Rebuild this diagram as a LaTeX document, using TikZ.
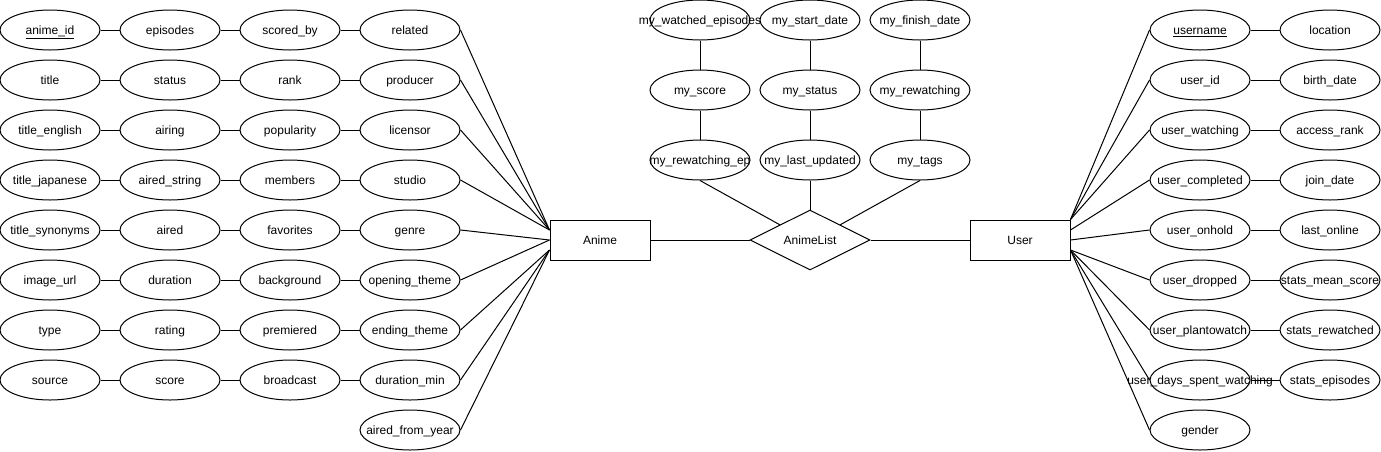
\documentclass[tikz,border=0pt]{standalone}
\usepackage{fontspec}
\setmainfont{Liberation Sans}
\usetikzlibrary{shapes.geometric, calc}
\newcommand{\attrtxt}[1]{\makebox[0pt]{#1}}
\tikzset{
  every picture/.style={x=1pt, y=-1pt, line width=1pt, font=\fontsize{12}{14}\selectfont},
  attr/.style={ellipse, draw, minimum width=100pt, minimum height=40pt, inner sep=0pt, text height=8.5pt, text depth=0pt},
  entity/.style={draw, minimum width=100pt, minimum height=40pt, inner sep=0pt, text height=8.5pt, text depth=0pt},
  relation/.style={diamond, draw, minimum width=120pt, minimum height=60pt, inner sep=0pt, aspect=2, text height=8.5pt, text depth=0pt},
  link/.style={draw, line width=1pt},
}
\begin{document}
\begin{tikzpicture}
  \useasboundingbox (0,0) rectangle (1381,451);
  % entities and relationship
  \node[entity] (anime) at (600,240) {Anime};
  \node[relation] (alist) at (810,240) {AnimeList};
  \node[entity] (user) at (1020,240) {User};
  \draw[link] (anime) -- (alist);
  \draw[link] (alist) -- (user);
  % Anime attributes
  \node[attr] (animeid) at (50,30) {\attrtxt{\underline{anime\_id}}};
  \node[attr] (episodes) at (170,30) {\attrtxt{episodes}};
  \node[attr] (scoredby) at (290,30) {\attrtxt{scored\_by}};
  \node[attr] (related) at (410,30) {\attrtxt{related}};
  \node[attr] (title) at (50,80) {\attrtxt{title}};
  \node[attr] (status) at (170,80) {\attrtxt{status}};
  \node[attr] (rank) at (290,80) {\attrtxt{rank}};
  \node[attr] (producer) at (410,80) {\attrtxt{producer}};
  \node[attr] (titleen) at (50,130) {\attrtxt{title\_english}};
  \node[attr] (airing) at (170,130) {\attrtxt{airing}};
  \node[attr] (popularity) at (290,130) {\attrtxt{popularity}};
  \node[attr] (licensor) at (410,130) {\attrtxt{licensor}};
  \node[attr] (titleja) at (50,180) {\attrtxt{title\_japanese}};
  \node[attr] (airedstr) at (170,180) {\attrtxt{aired\_string}};
  \node[attr] (members) at (290,180) {\attrtxt{members}};
  \node[attr] (studio) at (410,180) {\attrtxt{studio}};
  \node[attr] (titlesyn) at (50,230) {\attrtxt{title\_synonyms}};
  \node[attr] (aired) at (170,230) {\attrtxt{aired}};
  \node[attr] (favorites) at (290,230) {\attrtxt{favorites}};
  \node[attr] (genre) at (410,230) {\attrtxt{genre}};
  \node[attr] (imageurl) at (50,280) {\attrtxt{image\_url}};
  \node[attr] (duration) at (170,280) {\attrtxt{duration}};
  \node[attr] (background) at (290,280) {\attrtxt{background}};
  \node[attr] (opening) at (410,280) {\attrtxt{opening\_theme}};
  \node[attr] (type) at (50,330) {\attrtxt{type}};
  \node[attr] (rating) at (170,330) {\attrtxt{rating}};
  \node[attr] (premiered) at (290,330) {\attrtxt{premiered}};
  \node[attr] (ending) at (410,330) {\attrtxt{ending\_theme}};
  \node[attr] (source) at (50,380) {\attrtxt{source}};
  \node[attr] (score) at (170,380) {\attrtxt{score}};
  \node[attr] (broadcast) at (290,380) {\attrtxt{broadcast}};
  \node[attr] (durmin) at (410,380) {\attrtxt{duration\_min}};
  \node[attr] (airedyear) at (410,430) {\attrtxt{aired\_from\_year}};
  \draw[link] (animeid) -- (episodes) -- (scoredby) -- (related);
  \draw[link] (title) -- (status) -- (rank) -- (producer);
  \draw[link] (titleen) -- (airing) -- (popularity) -- (licensor);
  \draw[link] (titleja) -- (airedstr) -- (members) -- (studio);
  \draw[link] (titlesyn) -- (aired) -- (favorites) -- (genre);
  \draw[link] (imageurl) -- (duration) -- (background) -- (opening);
  \draw[link] (type) -- (rating) -- (premiered) -- (ending);
  \draw[link] (source) -- (score) -- (broadcast) -- (durmin);
  \coordinate (ain1) at ([yshift=10pt]anime.west);
  \coordinate (ain2) at (anime.west);
  \coordinate (ain3) at ([yshift=-10pt]anime.west);
  \draw[link] (related.east) -- (ain1);
  \draw[link] (producer.east) -- (ain1);
  \draw[link] (licensor.east) -- (ain1);
  \draw[link] (studio.east) -- (ain1);
  \draw[link] (genre.east) -- (ain2);
  \draw[link] (opening.east) -- (ain2);
  \draw[link] (ending.east) -- (ain3);
  \draw[link] (durmin.east) -- (ain3);
  \draw[link] (airedyear.east) -- (ain3);
  % AnimeList attributes
  \node[attr] (watched) at (700,20) {\attrtxt{my\_watched\_episodes}};
  \node[attr] (startdate) at (810,20) {\attrtxt{my\_start\_date}};
  \node[attr] (finishdate) at (920,20) {\attrtxt{my\_finish\_date}};
  \node[attr] (myscore) at (700,90) {\attrtxt{my\_score}};
  \node[attr] (mystatus) at (810,90) {\attrtxt{my\_status}};
  \node[attr] (rewatching) at (920,90) {\attrtxt{my\_rewatching}};
  \node[attr] (rewatchep) at (700,160) {\attrtxt{my\_rewatching\_ep}};
  \node[attr] (lastupd) at (810,160) {\attrtxt{my\_last\_updated}};
  \node[attr] (mytags) at (920,160) {\attrtxt{my\_tags}};
  \draw[link] (watched) -- (myscore) -- (rewatchep);
  \draw[link] (startdate) -- (mystatus) -- (lastupd);
  \draw[link] (finishdate) -- (rewatching) -- (mytags);
  \draw[link] (rewatchep.south) -- ($(alist.north)!.5!(alist.west)$);
  \draw[link] (lastupd.south) -- (alist.north);
  \draw[link] (mytags.south) -- ($(alist.north)!.5!(alist.east)$);
  % User attributes
  \node[attr] (username) at (1200,30) {\attrtxt{\underline{username}}};
  \node[attr] (location) at (1330,30) {\attrtxt{location}};
  \node[attr] (userid) at (1200,80) {\attrtxt{user\_id}};
  \node[attr] (birthdate) at (1330,80) {\attrtxt{birth\_date}};
  \node[attr] (uwatching) at (1200,130) {\attrtxt{user\_watching}};
  \node[attr] (accessrank) at (1330,130) {\attrtxt{access\_rank}};
  \node[attr] (ucompleted) at (1200,180) {\attrtxt{user\_completed}};
  \node[attr] (joindate) at (1330,180) {\attrtxt{join\_date}};
  \node[attr] (uonhold) at (1200,230) {\attrtxt{user\_onhold}};
  \node[attr] (lastonline) at (1330,230) {\attrtxt{last\_online}};
  \node[attr] (udropped) at (1200,280) {\attrtxt{user\_dropped}};
  \node[attr] (meanscore) at (1330,280) {\attrtxt{stats\_mean\_score}};
  \node[attr] (uplan) at (1200,330) {\attrtxt{user\_plantowatch}};
  \node[attr] (srewatched) at (1330,330) {\attrtxt{stats\_rewatched}};
  \node[attr] (udays) at (1200,380) {\attrtxt{user\_days\_spent\_watching}};
  \node[attr] (sepisodes) at (1330,380) {\attrtxt{stats\_episodes}};
  \node[attr] (gender) at (1200,430) {\attrtxt{gender}};
  \draw[link] (username) -- (location);
  \draw[link] (userid) -- (birthdate);
  \draw[link] (uwatching) -- (accessrank);
  \draw[link] (ucompleted) -- (joindate);
  \draw[link] (uonhold) -- (lastonline);
  \draw[link] (udropped) -- (meanscore);
  \draw[link] (uplan) -- (srewatched);
  \draw[link] (udays) -- (sepisodes);
  \coordinate (uout1) at (user.north east);
  \coordinate (uout2) at ([yshift=10pt]user.east);
  \coordinate (uout3) at (user.east);
  \coordinate (uout4) at ([yshift=-10pt]user.east);
  \draw[link] (uout1) -- (username.west);
  \draw[link] (uout1) -- (userid.west);
  \draw[link] (uout1) -- (uwatching.west);
  \draw[link] (uout2) -- (ucompleted.west);
  \draw[link] (uout3) -- (uonhold.west);
  \draw[link] (uout4) -- (udropped.west);
  \draw[link] (uout4) -- (uplan.west);
  \draw[link] (uout4) -- (udays.west);
  \draw[link] (uout4) -- (gender.west);
\end{tikzpicture}
\end{document}
